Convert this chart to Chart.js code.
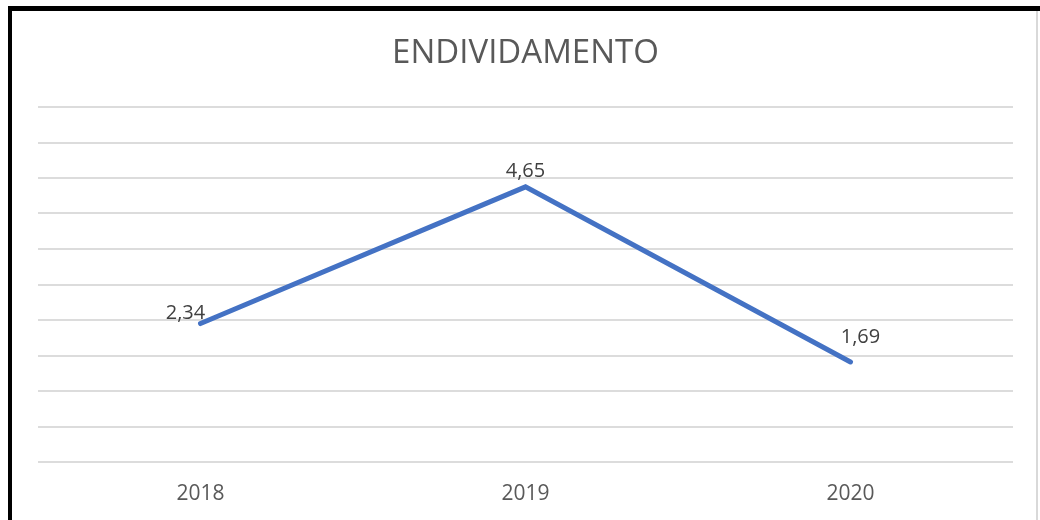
<!DOCTYPE html>
<html>
<head>
<meta charset="utf-8">
<script src="https://cdn.jsdelivr.net/npm/chart.js@4.4.1/dist/chart.umd.min.js"></script>
<style>
  html, body { margin: 0; padding: 0; background: #fff; }
  #wrap { position: relative; width: 1040px; height: 520px; overflow: hidden; }
  canvas { position: absolute; left: 0; top: 0; }
  .b { position: absolute; }
</style>
</head>
<body>
<div id="wrap">
  <canvas id="c" width="1040" height="520"></canvas>
  <div class="b" style="left:8px;top:6px;width:1032px;height:5px;background:#000"></div>
  <div class="b" style="left:8px;top:6px;width:4px;height:514px;background:#000"></div>
  <div class="b" style="left:1036px;top:11px;width:2px;height:509px;background:#d9d9d9"></div>
</div>
<script>
const chartTitle = 'ENDIVIDAMENTO';
const categories = ['2018', '2019', '2020'];
const values = [2.34, 4.65, 1.69];
const yMin = 0;
const yMax = 6;
const yStep = 0.6;

const labelOffsets = [[-15, -10], [0, -16], [10, -25]];

const valueLabels = {
  id: 'valueLabels',
  afterDatasetsDraw(chart) {
    const ctx = chart.ctx;
    const meta = chart.getDatasetMeta(0);
    ctx.save();
    ctx.font = '20px "Open Sans", sans-serif';
    ctx.fillStyle = '#404040';
    ctx.textAlign = 'center';
    ctx.textBaseline = 'middle';
    meta.data.forEach((pt, i) => {
      const v = chart.data.datasets[0].data[i];
      const txt = v.toFixed(2).replace('.', ',');
      const o = labelOffsets[i] || [0, -16];
      ctx.fillText(txt, pt.x + o[0], pt.y + o[1]);
    });
    ctx.restore();
  }
};

new Chart(document.getElementById('c'), {
  type: 'line',
  data: {
    labels: categories,
    datasets: [{
      data: values,
      borderColor: '#4472C4',
      borderWidth: 5,
      pointRadius: 0,
      pointHoverRadius: 0,
      tension: 0,
      fill: false,
      borderCapStyle: 'round',
      borderJoinStyle: 'miter'
    }]
  },
  options: {
    responsive: false,
    animation: false,
    events: [],
    layout: { padding: { left: 38, right: 27, top: 0, bottom: 0 } },
    plugins: {
      legend: { display: false },
      tooltip: { enabled: false },
      title: {
        display: true,
        text: chartTitle,
        color: '#595959',
        font: { family: '"Open Sans", sans-serif', size: 33, weight: 'normal', lineHeight: 1.2 },
        padding: { top: 34, bottom: 33.4 }
      }
    },
    scales: {
      x: {
        offset: true,
        grid: { display: false, drawTicks: false },
        border: { display: false },
        ticks: {
          color: '#595959',
          font: { family: '"Open Sans", sans-serif', size: 21 },
          padding: 19
        },
        afterFit(scale) { scale.height = 58; }
      },
      y: {
        min: yMin,
        max: yMax,
        ticks: { display: false, stepSize: yStep },
        grid: { color: '#dcdcdc', lineWidth: 2, drawTicks: false },
        border: { display: false }
      }
    }
  },
  plugins: [valueLabels]
});
</script>
</body>
</html>
